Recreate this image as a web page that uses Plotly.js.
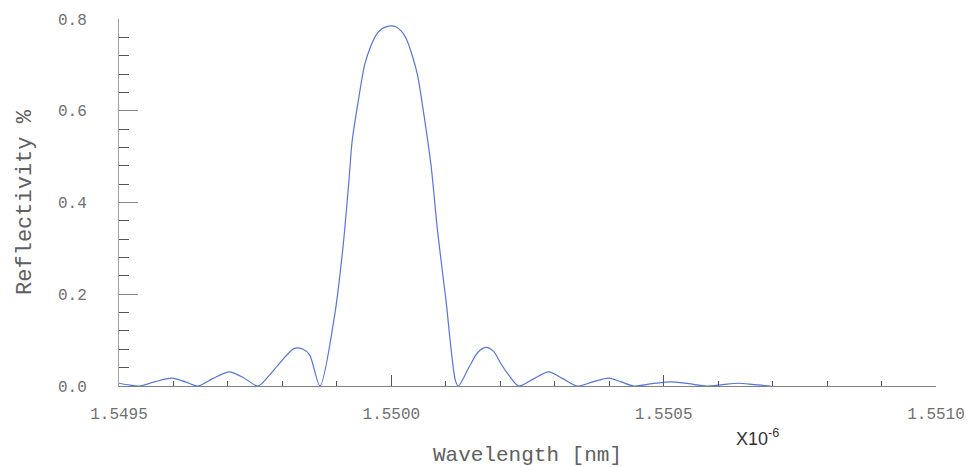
<!DOCTYPE html>
<html>
<head>
<meta charset="utf-8">
<script src="https://cdn.plot.ly/plotly-3.0.1.min.js"></script>
<style>
  html, body { margin: 0; padding: 0; background: #ffffff; }
  #chart { width: 967px; height: 467px; }
</style>
</head>
<body>
<div id="chart"></div>
<script>
// Wavelength values (x 10^-6 m)
const wavelength = [
  1.549500, 1.549520, 1.549538, 1.549565, 1.549597, 1.549622, 1.549645,
  1.549672, 1.549703, 1.549730, 1.549755,
  1.549775, 1.549795, 1.549822, 1.549838, 1.549850, 1.549869,
  1.549896, 1.549911, 1.549922, 1.549928, 1.549941, 1.549951, 1.549962,
  1.549972, 1.549982, 1.549993, 1.550000, 1.550008, 1.550018, 1.550027,
  1.550038, 1.550048, 1.550060, 1.550073,
  1.550085, 1.550100, 1.550118, 1.550123,
  1.550143, 1.550158, 1.550173, 1.550188, 1.550201, 1.550218, 1.550234,
  1.550262, 1.550289, 1.550315, 1.550341,
  1.550370, 1.550399, 1.550422, 1.550445,
  1.550479, 1.550513, 1.550546, 1.550579,
  1.550608, 1.550637, 1.550666, 1.550696
];
// Reflectivity values
const reflectivity = [
  0.006, 0.002, 0.000, 0.009, 0.017, 0.009, 0.000,
  0.016, 0.031, 0.017, 0.000,
  0.022, 0.050, 0.082, 0.080, 0.068, 0.000,
  0.155, 0.300, 0.445, 0.533, 0.634, 0.700, 0.740,
  0.765, 0.778, 0.784, 0.785, 0.783, 0.774, 0.758,
  0.722, 0.678, 0.590, 0.480,
  0.336, 0.190, 0.010, 0.000,
  0.042, 0.072, 0.084, 0.075, 0.049, 0.020, 0.000,
  0.016, 0.031, 0.016, 0.000,
  0.009, 0.017, 0.009, 0.000,
  0.005, 0.009, 0.005, 0.000,
  0.003, 0.006, 0.003, 0.000
];
const xTickVals = [1.5495, 1.5500, 1.5505, 1.5510];
const xTickText = ["1.5495", "1.5500", "1.5505", "1.5510"];
const yTickVals = [0.0, 0.2, 0.4, 0.6, 0.8];
const yTickText = ["0.0", "0.2", "0.4", "0.6", "0.8"];

const monoFont = "'Liberation Mono', 'DejaVu Sans Mono', monospace";

const trace = {
  x: wavelength,
  y: reflectivity,
  type: 'scatter',
  mode: 'lines',
  line: { color: '#5575dc', width: 1.2, shape: 'spline', smoothing: 0.8 },
  hoverinfo: 'skip'
};

const layout = {
  width: 967,
  height: 467,
  margin: { l: 119, r: 31, t: 19, b: 81 },
  paper_bgcolor: '#ffffff',
  plot_bgcolor: '#ffffff',
  showlegend: false,
  xaxis: {
    range: [1.5495, 1.5510],
    tickmode: 'array',
    tickvals: xTickVals,
    ticktext: xTickText,
    ticks: 'inside',
    ticklen: 11,
    tickwidth: 1,
    tickcolor: '#555555',
    minor: { dtick: 0.0001, tick0: 1.5495, ticks: 'inside', ticklen: 5, tickcolor: '#555555', showgrid: false },
    showline: true,
    linecolor: '#808080',
    linewidth: 1,
    showgrid: false,
    zeroline: false,
    ticklabelstandoff: 13,
    tickfont: { family: monoFont, size: 16, color: '#707070' },
    title: { text: 'Wavelength [nm]', font: { family: monoFont, size: 21, color: '#606060' }, standoff: 24 },
    automargin: false
  },
  yaxis: {
    range: [0, 0.8],
    tickmode: 'array',
    tickvals: yTickVals,
    ticktext: yTickText,
    ticks: 'inside',
    ticklen: 19,
    tickwidth: 1,
    tickcolor: '#888888',
    minor: { dtick: 0.04, tick0: 0, ticks: 'inside', ticklen: 10, tickcolor: '#555555', showgrid: false },
    showline: true,
    linecolor: '#a0a0a0',
    linewidth: 1,
    showgrid: false,
    zeroline: false,
    ticklabelstandoff: 28,
    tickfont: { family: monoFont, size: 16, color: '#707070' },
    title: { text: 'Reflectivity %', font: { family: monoFont, size: 22, color: '#606060' }, standoff: 20 },
    automargin: false
  },
  annotations: [
    {
      xref: 'paper', yref: 'paper',
      x: 0.782, y: -0.14,
      xanchor: 'center', yanchor: 'middle',
      text: 'X10<sup>-6</sup>',
      showarrow: false,
      font: { family: "'Liberation Sans', Arial, sans-serif", size: 18, color: '#333333' }
    }
  ]
};

Plotly.newPlot('chart', [trace], layout, { staticPlot: true, displayModeBar: false });
</script>
</body>
</html>
